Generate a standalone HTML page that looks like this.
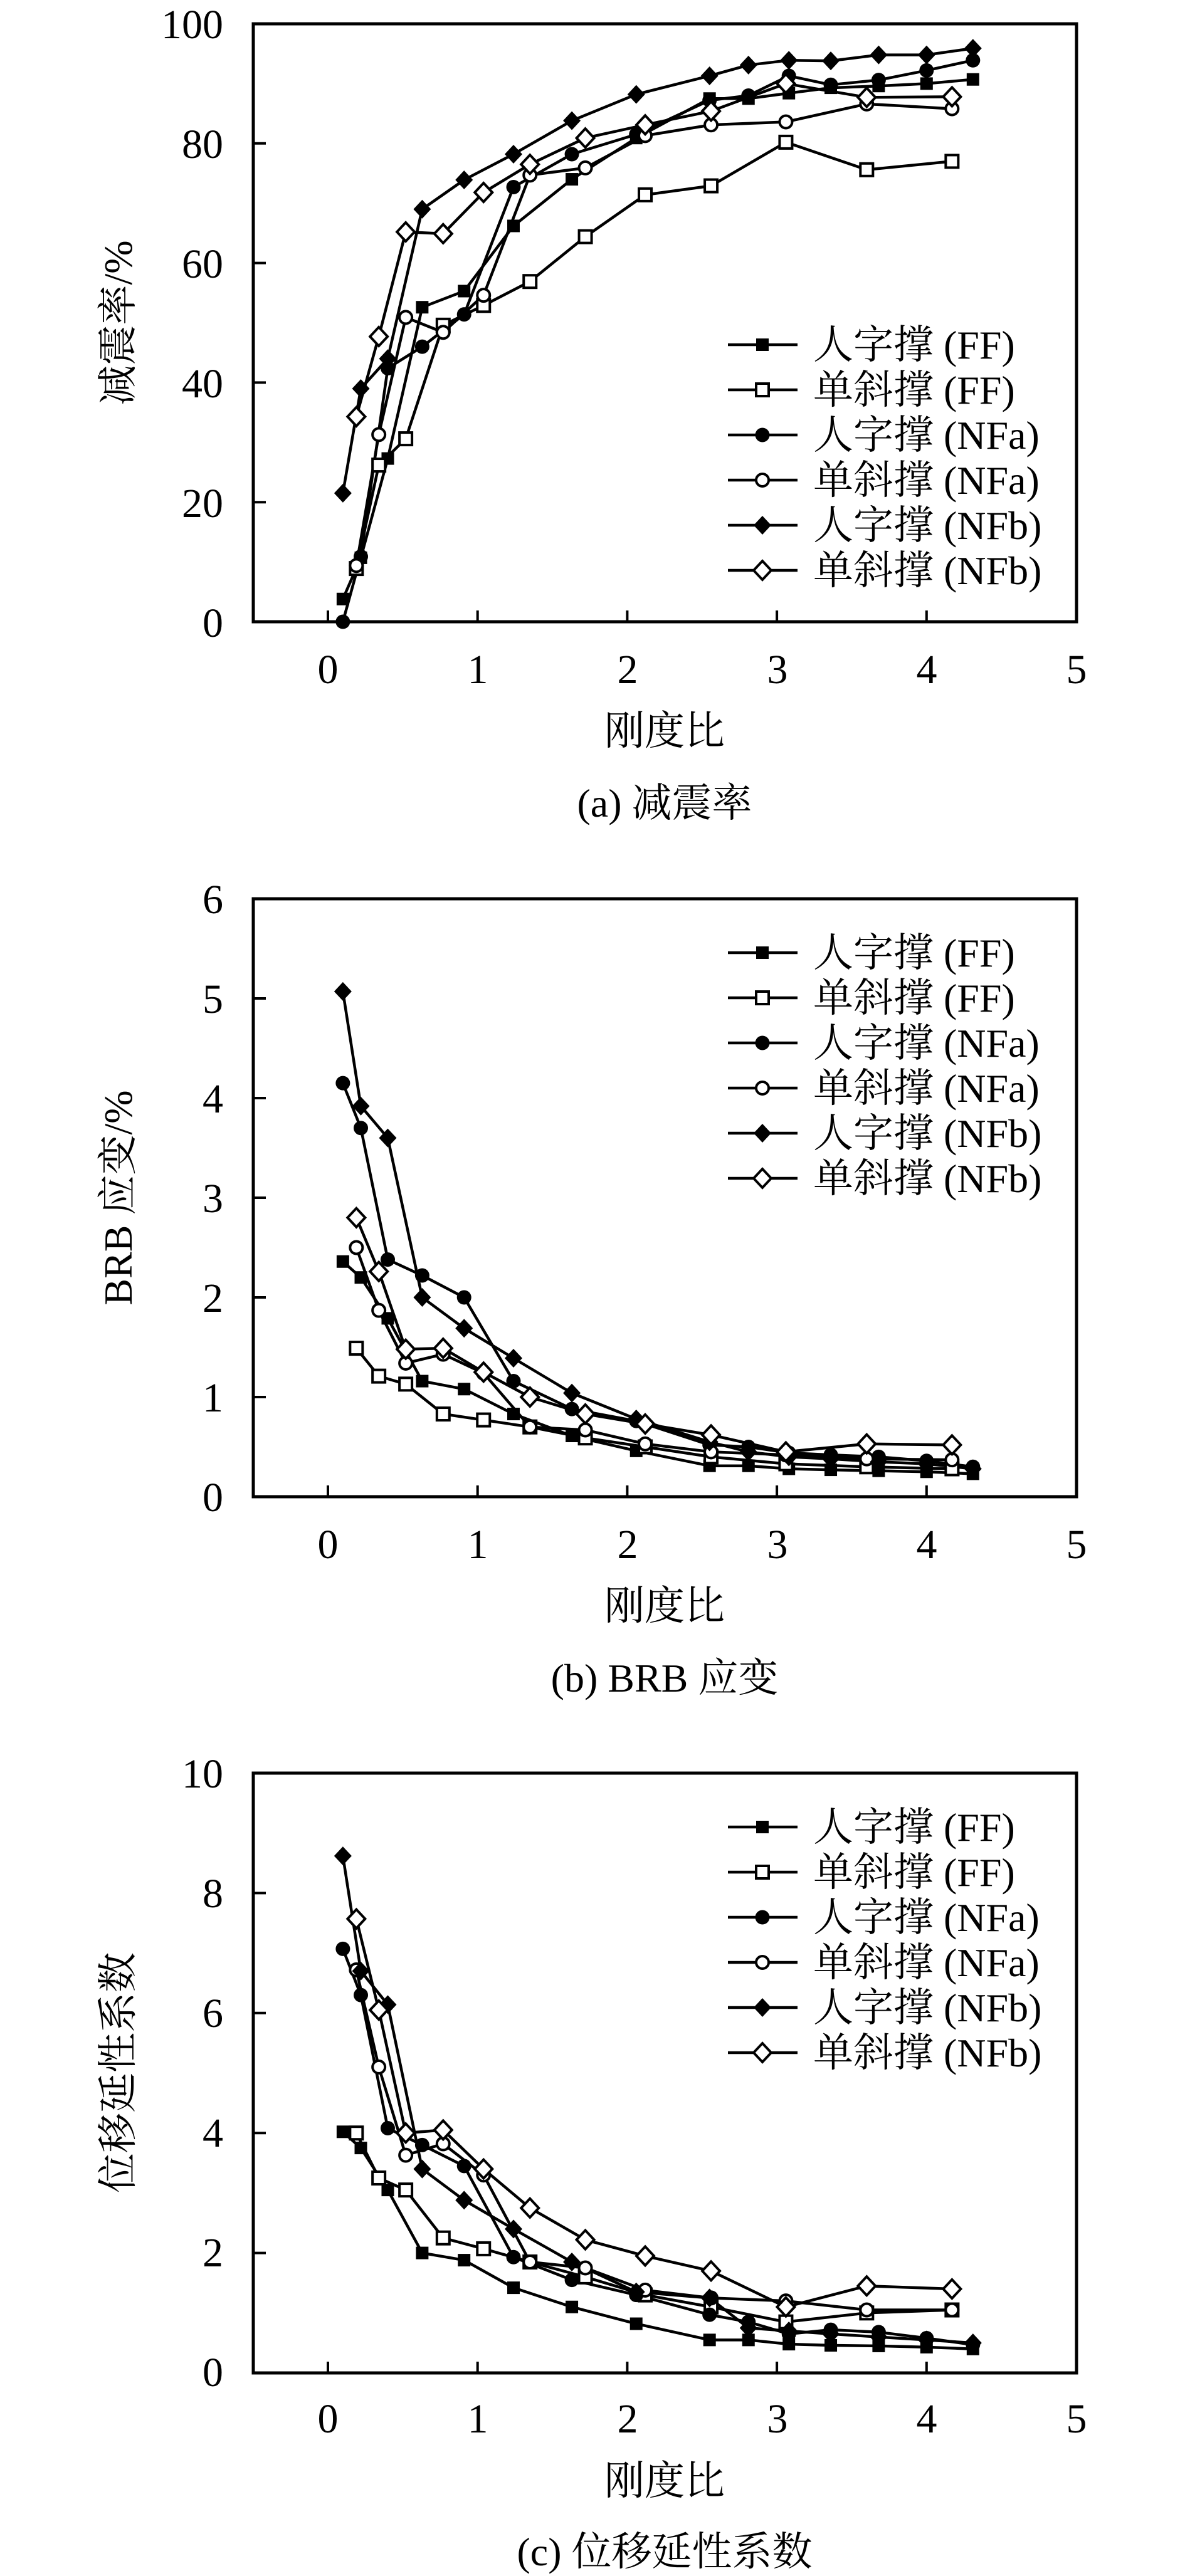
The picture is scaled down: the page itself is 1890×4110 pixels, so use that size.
<!DOCTYPE html>
<html><head><meta charset="utf-8">
<style>
html,body{margin:0;padding:0;background:#fff;}
svg{display:block;}
text{font-family:"Liberation Serif","Noto Serif CJK SC",serif;fill:#000;}
</style></head>
<body>
<svg id="s" xmlns="http://www.w3.org/2000/svg" width="1890" height="4110" viewBox="0 0 1890 4110">
<rect width="1890" height="4110" fill="#fff"/>
<!-- Chart a -->
<g font-size="66">
<text x="356" y="61" text-anchor="end">100</text>
<text x="356" y="252" text-anchor="end">80</text>
<text x="356" y="443" text-anchor="end">60</text>
<text x="356" y="634" text-anchor="end">40</text>
<text x="356" y="825" text-anchor="end">20</text>
<text x="356" y="1016" text-anchor="end">0</text>
<text x="523" y="1090" text-anchor="middle">0</text>
<text x="762" y="1090" text-anchor="middle">1</text>
<text x="1001" y="1090" text-anchor="middle">2</text>
<text x="1240" y="1090" text-anchor="middle">3</text>
<text x="1478" y="1090" text-anchor="middle">4</text>
<text x="1717" y="1090" text-anchor="middle">5</text>
</g>
<text x="1060" y="1188" font-size="64" text-anchor="middle">刚度比</text>
<text x="1060" y="1303" font-size="64" text-anchor="middle">(a) 减震率</text>
<text transform="translate(210,515) rotate(-90)" font-size="64" text-anchor="middle">减震率/%</text>
<!-- Chart b -->
<g font-size="66">
<text x="356" y="1457" text-anchor="end">6</text>
<text x="356" y="1616" text-anchor="end">5</text>
<text x="356" y="1775" text-anchor="end">4</text>
<text x="356" y="1934" text-anchor="end">3</text>
<text x="356" y="2093" text-anchor="end">2</text>
<text x="356" y="2252" text-anchor="end">1</text>
<text x="356" y="2411" text-anchor="end">0</text>
<text x="523" y="2486" text-anchor="middle">0</text>
<text x="762" y="2486" text-anchor="middle">1</text>
<text x="1001" y="2486" text-anchor="middle">2</text>
<text x="1240" y="2486" text-anchor="middle">3</text>
<text x="1478" y="2486" text-anchor="middle">4</text>
<text x="1717" y="2486" text-anchor="middle">5</text>
</g>
<text x="1060" y="2584" font-size="64" text-anchor="middle">刚度比</text>
<text x="1060" y="2699" font-size="64" text-anchor="middle">(b) BRB 应变</text>
<text transform="translate(210,1911) rotate(-90)" font-size="64" text-anchor="middle">BRB 应变/%</text>
<!-- Chart c -->
<g font-size="66">
<text x="356" y="2852" text-anchor="end">10</text>
<text x="356" y="3043" text-anchor="end">8</text>
<text x="356" y="3234" text-anchor="end">6</text>
<text x="356" y="3425" text-anchor="end">4</text>
<text x="356" y="3616" text-anchor="end">2</text>
<text x="356" y="3807" text-anchor="end">0</text>
<text x="523" y="3881" text-anchor="middle">0</text>
<text x="762" y="3881" text-anchor="middle">1</text>
<text x="1001" y="3881" text-anchor="middle">2</text>
<text x="1240" y="3881" text-anchor="middle">3</text>
<text x="1478" y="3881" text-anchor="middle">4</text>
<text x="1717" y="3881" text-anchor="middle">5</text>
</g>
<text x="1060" y="3980" font-size="64" text-anchor="middle">刚度比</text>
<text x="1060" y="4093" font-size="64" text-anchor="middle">(c) 位移延性系数</text>
<text transform="translate(210,3307) rotate(-90)" font-size="64" text-anchor="middle">位移延性系数</text>
<!-- legends text -->
<g font-size="64">
<text x="1297" y="572">人字撑 (FF)</text>
<text x="1297" y="644">单斜撑 (FF)</text>
<text x="1297" y="716">人字撑 (NFa)</text>
<text x="1297" y="788">单斜撑 (NFa)</text>
<text x="1297" y="860">人字撑 (NFb)</text>
<text x="1297" y="932">单斜撑 (NFb)</text>
<text x="1297" y="1542">人字撑 (FF)</text>
<text x="1297" y="1614">单斜撑 (FF)</text>
<text x="1297" y="1686">人字撑 (NFa)</text>
<text x="1297" y="1758">单斜撑 (NFa)</text>
<text x="1297" y="1830">人字撑 (NFb)</text>
<text x="1297" y="1902">单斜撑 (NFb)</text>
<text x="1297" y="2937">人字撑 (FF)</text>
<text x="1297" y="3009">单斜撑 (FF)</text>
<text x="1297" y="3081">人字撑 (NFa)</text>
<text x="1297" y="3153">单斜撑 (NFa)</text>
<text x="1297" y="3225">人字撑 (NFb)</text>
<text x="1297" y="3297">单斜撑 (NFb)</text>
</g>
<g id="g"></g>
</svg>
<script>
(function(){
var NS="http://www.w3.org/2000/svg",G=document.getElementById('g');
function el(t,a){var e=document.createElementNS(NS,t);for(var k in a)e.setAttribute(k,a[k]);G.appendChild(e);return e;}
var L=404,R=1717;
function X(x){return 523+x*238.7;}
function marker(t,x,y){
 var f=(t%2==0)?'#000':'#fff';
 var k=Math.floor(t/2);
 if(k==0) el('rect',{x:x-10,y:y-10,width:20,height:20,fill:f,stroke:'#000','stroke-width':f=='#fff'?4:0});
 else if(k==1) el('circle',{cx:x,cy:y,r:f=='#fff'?10:11.5,fill:f,stroke:'#000','stroke-width':f=='#fff'?4:0});
 else el('polygon',{points:(x)+','+(y-15)+' '+(x+14)+','+y+' '+x+','+(y+15)+' '+(x-14)+','+y,fill:f,stroke:'#000','stroke-width':f=='#fff'?4:0});
}
var xsA=[0.10,0.22,0.40,0.63,0.91,1.24,1.63,2.06,2.55,2.81,3.08,3.36,3.68,4.0,4.31];
var xsB=[0.19,0.34,0.52,0.77,1.04,1.35,1.72,2.12,2.56,3.06,3.6,4.17];
var charts=[
 {top:38,bot:992,max:100,ticks:5,legy:550,data:[
  [xsA,[3.8,10.7,27.3,52.6,55.3,66.2,74,80.9,87.5,87.5,88.4,89.3,89.6,90,90.7]],
  [xsB,[8.9,26.2,30.6,49.6,52.9,56.9,64.4,71.4,72.9,80.2,75.6,77]],
  [xsA,[0,10.9,42.4,46,51.4,72.7,78.2,81.5,87.2,88,91.3,89.8,90.6,92.2,93.9]],
  [xsB,[9.4,31.3,50.9,48.4,54.6,74.7,75.9,81.3,83.1,83.6,86.6,85.8]],
  [xsA,[21.5,39,44,69,73.9,78.2,83.8,88.2,91.3,93.1,93.9,93.8,94.8,94.8,95.9]],
  [xsB,[34.3,47.7,65.2,64.9,71.8,76.5,80.9,83.1,85.4,90,87.7,87.8]]]},
 {top:1434,bot:2388,max:6,ticks:6,legy:1520,data:[
  [xsA,[2.36,2.2,1.79,1.16,1.08,0.83,0.61,0.46,0.31,0.31,0.28,0.27,0.26,0.25,0.23]],
  [xsB,[1.49,1.21,1.13,0.83,0.77,0.7,0.59,0.5,0.4,0.33,0.3,0.28]],
  [xsA,[4.15,3.7,2.38,2.22,2.0,1.16,0.88,0.76,0.52,0.5,0.44,0.42,0.4,0.36,0.3]],
  [xsB,[2.5,1.87,1.34,1.43,1.24,0.7,0.67,0.53,0.45,0.42,0.38,0.37]],
  [xsA,[5.07,3.92,3.6,2.0,1.69,1.39,1.04,0.78,0.55,0.45,0.4,0.38,0.35,0.33,0.28]],
  [xsB,[2.8,2.26,1.48,1.49,1.25,1.0,0.83,0.73,0.62,0.45,0.53,0.52]]]},
 {top:2829,bot:3786,max:10,ticks:5,legy:2915,data:[
  [xsA,[4.02,3.75,3.05,2.0,1.88,1.42,1.1,0.82,0.55,0.55,0.48,0.46,0.45,0.43,0.4]],
  [xsB,[4.0,3.25,3.05,2.25,2.07,1.85,1.6,1.3,1.1,0.85,1.0,1.05]],
  [xsA,[7.07,6.3,4.08,3.8,3.45,1.93,1.55,1.3,0.97,0.85,0.65,0.72,0.68,0.58,0.47]],
  [xsB,[6.72,5.1,3.63,3.82,3.3,1.85,1.75,1.38,1.25,1.2,1.05,1.05]],
  [xsA,[8.62,6.7,6.14,3.4,2.88,2.4,1.85,1.35,1.25,0.75,0.7,0.65,0.6,0.55,0.5]],
  [xsB,[7.57,6.05,4.0,4.05,3.4,2.75,2.22,1.95,1.7,1.1,1.45,1.4]]]}
];
charts.forEach(function(c){
 var H=c.bot-c.top;
 function Y(v){return c.bot-v/c.max*H;}
 el('rect',{x:L,y:c.top,width:R-L,height:H,fill:'none',stroke:'#000','stroke-width':5});
 for(var i=0;i<=5;i++){var x=X(i);el('line',{x1:x,y1:c.bot,x2:x,y2:c.bot-18,stroke:'#000','stroke-width':4});}
 for(var j=1;j<c.ticks;j++){var y=c.top+H*j/c.ticks;el('line',{x1:L,y1:y,x2:L+20,y2:y,stroke:'#000','stroke-width':4});}
 c.data.forEach(function(s,t){
  var p=s[0].slice(0,s[1].length).map(function(x,i){return X(x)+','+Y(s[1][i]);}).join(' ');
  el('polyline',{points:p,fill:'none',stroke:'#000','stroke-width':4.5,'stroke-linejoin':'round'});
 });
 c.data.forEach(function(s,t){
  for(var i=0;i<s[1].length;i++) marker(t,X(s[0][i]),Y(s[1][i]));
 });
 for(var t=0;t<6;t++){var ly=c.legy+t*72;
  el('line',{x1:1161,y1:ly,x2:1272,y2:ly,stroke:'#000','stroke-width':4.5});
  marker(t,1216,ly);}
});
})();
</script>
</body></html>
